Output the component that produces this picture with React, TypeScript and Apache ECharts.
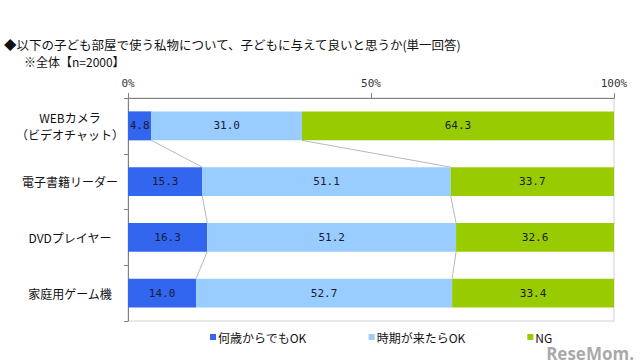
import React, { useEffect, useRef } from "react";
import * as echarts from "echarts";

const categories = ["WEBカメラ\n（ビデオチャット）", "電子書籍リーダー", "DVDプレイヤー", "家庭用ゲーム機"];
const anyAgeOK = [4.8, 15.3, 16.3, 14.0];
const whenTimeOK = [31.0, 51.1, 51.2, 52.7];
const ngValues = [64.3, 33.7, 32.6, 33.4];
const seriesNames = ["何歳からでもOK", "時期が来たらOK", "NG"];
const xTicks = [0, 50, 100];

const BAR_FRAC = 0.52;
const JP = '"Noto Sans CJK JP", "Noto Sans", sans-serif';
const MONO = '"DejaVu Sans Mono", "Liberation Mono", monospace';

export default function App() {
  const ref = useRef<HTMLDivElement>(null);
  useEffect(() => {
    if (!ref.current) return;
    const chart = echarts.init(ref.current, null, { renderer: "svg" });
    const label = {
      show: true,
      position: "inside",
      color: "#1a1a33",
      fontFamily: MONO,
      fontSize: 11,
      formatter: (p: any) => Number(p.value).toFixed(1),
    };
    const cum1 = anyAgeOK;
    const cum2 = anyAgeOK.map((v, i) => v + whenTimeOK[i]);
    chart.setOption({
      animation: false,
      textStyle: { fontFamily: JP },
      graphic: [
        {
          type: "text",
          left: 4,
          top: 38,
          style: {
            text: "◆以下の子ども部屋で使う私物について、子どもに与えて良いと思うか(単一回答)",
            font: `12.5px ${JP}`,
            fill: "#111",
          },
        },
        {
          type: "text",
          left: 24,
          top: 55,
          style: { text: "※全体【n=2000】", font: `12px ${JP}`, fill: "#111" },
        },
        {
          type: "text",
          right: 6,
          top: 345,
          style: { text: "ReseMom.", font: `bold 17px "Open Sans", sans-serif`, fill: "#9a9a9a", opacity: 0.85 },
        },
      ],
      grid: {
        left: 128,
        right: 26,
        top: 98,
        bottom: 43,
        show: true,
        borderColor: "#d0d0d0",
        borderWidth: 1,
      },
      legend: {
        left: 205,
        top: 326,
        itemWidth: 6,
        itemHeight: 6,
        itemGap: 62,
        icon: "rect",
        textStyle: { fontFamily: JP, fontSize: 12, color: "#111", padding: [0, 0, 0, -3] },
        data: seriesNames,
      },
      xAxis: {
        type: "value",
        position: "top",
        min: 0,
        max: 100,
        interval: 50,
        splitLine: { show: false },
        axisLine: { show: true, lineStyle: { color: "#808080" } },
        axisTick: { show: true, length: 5, lineStyle: { color: "#808080" } },
        axisLabel: {
          margin: 9,
          fontFamily: MONO,
          fontSize: 11,
          color: "#333",
          formatter: (v: number) => (xTicks.includes(v) ? `${v}%` : ""),
        },
      },
      yAxis: {
        type: "category",
        inverse: true,
        data: categories,
        axisLine: { show: true, lineStyle: { color: "#808080" } },
        axisTick: { show: true, length: 4, lineStyle: { color: "#808080" } },
        axisLabel: {
          align: "center",
          margin: 58,
          fontFamily: JP,
          fontSize: 12,
          lineHeight: 17,
          color: "#111",
        },
      },
      series: [
        {
          name: seriesNames[0],
          type: "bar",
          stack: "s",
          barWidth: `${BAR_FRAC * 100}%`,
          data: anyAgeOK,
          itemStyle: { color: "#3366ee" },
          label,
        },
        {
          name: seriesNames[1],
          type: "bar",
          stack: "s",
          data: whenTimeOK,
          itemStyle: { color: "#99ccff" },
          label,
        },
        {
          name: seriesNames[2],
          type: "bar",
          stack: "s",
          data: ngValues,
          itemStyle: { color: "#99cc00" },
          label,
        },
        {
          type: "custom",
          silent: true,
          clip: false,
          data: categories.slice(0, -1).map((_, i) => [0, i]),
          renderItem: (params: any, api: any) => {
            const i = params.dataIndex;
            const half = (api.size([0, 1])[1] * BAR_FRAC) / 2;
            const children: any[] = [];
            [cum1, cum2].forEach((c) => {
              const a = api.coord([c[i], i]);
              const b = api.coord([c[i + 1], i + 1]);
              children.push({
                type: "line",
                shape: { x1: a[0], y1: a[1] + half, x2: b[0], y2: b[1] - half },
                style: { stroke: "#b8b8b8", lineWidth: 1 },
              });
            });
            return { type: "group", children };
          },
        },
      ],
    });
    return () => chart.dispose();
  }, []);
  return <div ref={ref} style={{ position: "fixed", left: 0, top: 0, width: 640, height: 364, background: "#fff" }} />;
}
